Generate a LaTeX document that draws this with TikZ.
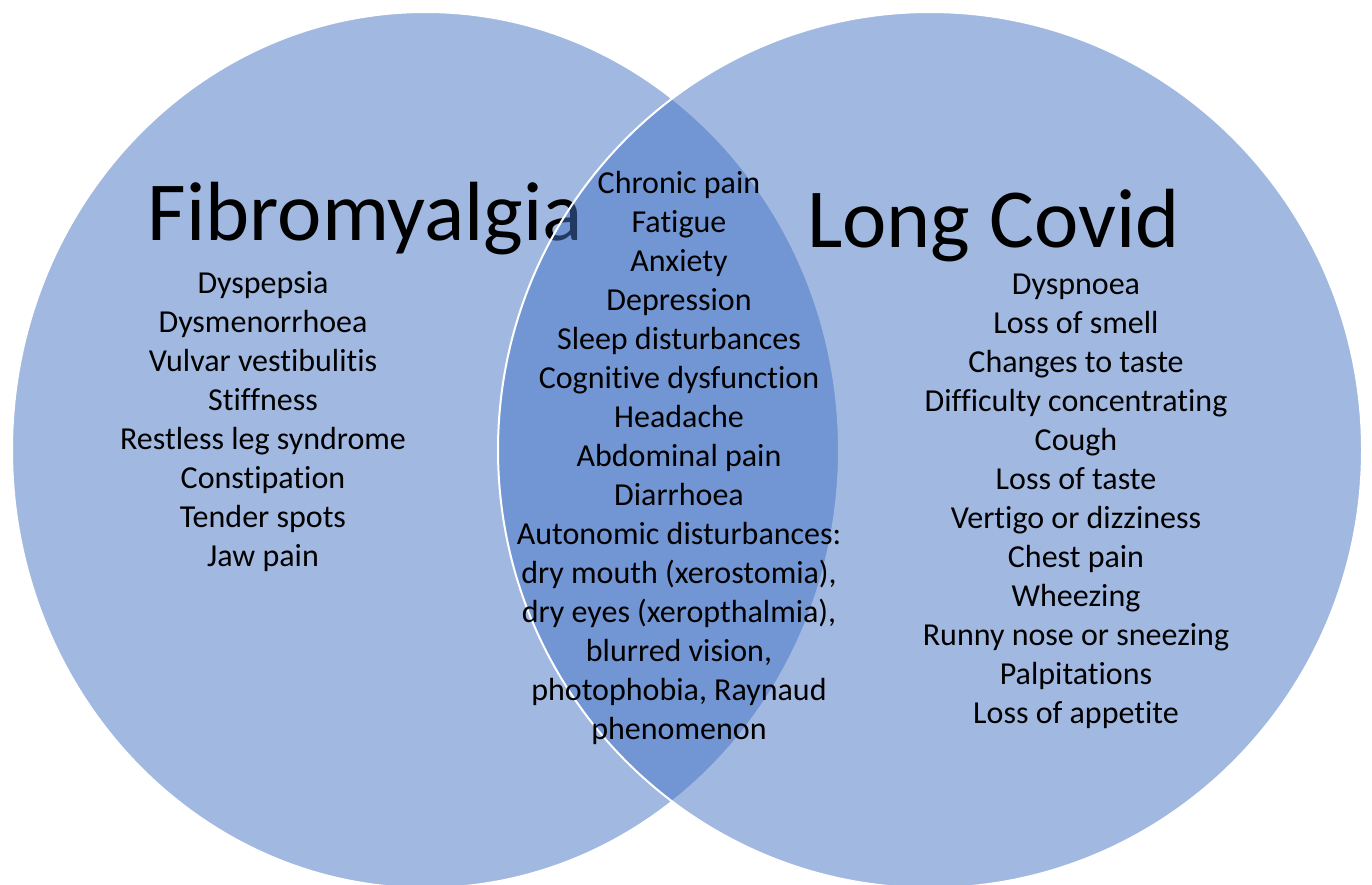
\documentclass[tikz,border=0pt]{standalone}
\usepackage{fontspec}
\setmainfont{Carlito}[RawFeature={-liga;-clig;-calt;-dlig;-rlig}]
\definecolor{vennblue}{RGB}{68,114,196}
\tikzset{
  venncirc/.style={fill=vennblue, fill opacity=0.5, draw=white, line width=2pt},
  titletext/.style={font=\fontsize{84}{100}\selectfont, text=black, inner sep=0pt, anchor=base},
  listtext/.style={font=\fontsize{32}{39}\selectfont, text=black, inner sep=0pt, align=center}
}
\begin{document}
\begin{tikzpicture}[x=1pt,y=-1pt]
\useasboundingbox (0,0) rectangle (1372,884);
\begin{scope}
\clip (0,0) rectangle (1372,884);
\path[venncirc] (425.5,450) ellipse [x radius=413.5, y radius=438];
\node[titletext] (fibro) at (365.5,240) {Fibromyalgia};
\node[listtext] (fibrolist) at (263,421.5) {Dyspepsia\\Dysmenorrhoea\\Vulvar vestibulitis\\Stiffness\\Restless leg syndrome\\Constipation\\Tender spots\\Jaw pain};
\path[venncirc] (930,450) ellipse [x radius=432, y radius=438];
\end{scope}
\node[titletext] (covid) at (993.5,247) {Long Covid};
\node[listtext] (covidlist) at (1076,501.5) {Dyspnoea\\Loss of smell\\Changes to taste\\Difficulty concentrating\\Cough\\Loss of taste\\Vertigo or dizziness\\Chest pain\\Wheezing\\Runny nose or sneezing\\Palpitations\\Loss of appetite};
\node[listtext] (bothlist) at (679,458) {Chronic pain\\Fatigue\\Anxiety\\Depression\\Sleep disturbances\\Cognitive dysfunction\\Headache\\Abdominal pain\\Diarrhoea\\Autonomic disturbances:\\dry mouth (xerostomia),\\dry eyes (xeropthalmia),\\blurred vision,\\photophobia, Raynaud\\phenomenon};
\end{tikzpicture}
\end{document}
